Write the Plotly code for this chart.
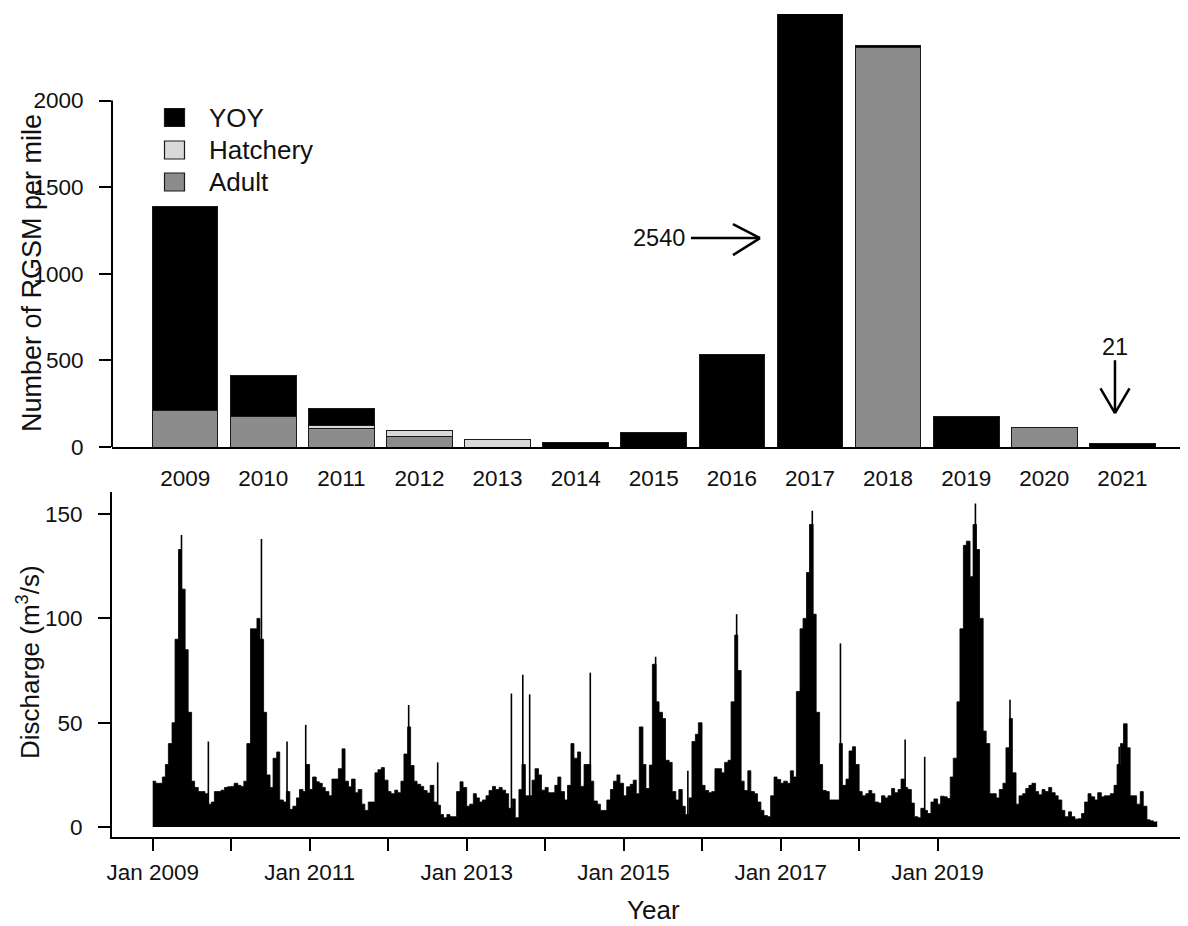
import plotly.graph_objects as go
import pandas as pd

# ---------------- data: top panel (RGSM density per mile) ----------------
years = [2009, 2010, 2011, 2012, 2013, 2014, 2015, 2016, 2017, 2018, 2019, 2020, 2021]
yoy = [1175, 233, 96, 0, 0, 25, 81, 534, 2540, 10, 176, 0, 21]
hatchery = [0, 0, 18, 37, 43, 0, 0, 0, 0, 0, 0, 0, 0]
adult = [212, 177, 106, 58, 0, 0, 0, 0, 0, 2308, 0, 114, 0]

# ---------------- data: bottom panel (discharge, semi-monthly envelope) ----------------
discharge_start = "2009-01-01"
discharge_end = "2021-10-15"
discharge = [
    # 2009
    22, 21, 21, 24, 30, 40, 50, 90, 133, 114, 85, 55, 22, 19, 17, 17, 16, 11, 12, 17, 17, 17.7, 19, 19.3,
    # 2010
    19.5, 21, 20, 19.5, 22, 40, 95, 95, 100, 90, 55, 25, 19, 33, 36, 13, 12, 17, 8.5, 10, 14, 18, 17, 30,
    # 2011
    18, 24, 21.7, 21, 19, 17, 15, 23, 23, 28, 37.5, 22, 19.3, 23, 16.5, 18, 11, 8, 12, 12, 26, 27.5, 28.5, 22.5,
    # 2012
    17, 16, 17.7, 16.5, 22, 35, 48, 29.5, 22, 20.5, 19.5, 17.5, 16.3, 20, 12, 10.5, 6, 4.5, 6, 5, 5, 17, 21.7, 19,
    # 2013
    10, 11, 16, 14, 12, 13, 15, 17.5, 19.5, 18, 19, 17.7, 16, 9, 13.5, 4.5, 18, 30, 15, 15, 22.5, 28, 25, 17.7,
    # 2014
    19, 16.5, 16.5, 20, 24, 17, 13, 20, 40, 33, 36, 19.5, 30, 30, 22, 12.5, 11, 8, 8, 13, 18, 22, 25, 21,
    # 2015
    15, 19.3, 20.5, 22.5, 16, 48, 30, 18.5, 29.7, 78, 60, 55, 52, 32, 31, 17, 13, 18, 10, 6, 14, 41, 44.5, 50,
    # 2016
    20, 17.5, 16.5, 17, 28, 28, 26, 31, 32, 60, 92, 75, 22, 17.5, 27, 17, 16, 12, 8, 5.5, 5, 15, 24, 22.8,
    # 2017
    21, 22, 21, 27, 24, 65, 95, 100, 122, 145, 102, 55, 30, 17.5, 17, 13, 13, 13, 40, 20, 23, 36.5, 38.5, 30,
    # 2018
    17, 15, 16, 17.5, 16, 12, 11.5, 15, 14, 15, 18.5, 16.5, 18, 23, 19, 18, 11.5, 5, 4.5, 9, 8, 6.5, 12, 13.5,
    # 2019
    11, 14.8, 14.5, 13.7, 24, 33, 60, 95, 135, 137, 120, 145, 133, 100, 46, 40, 16, 16, 14, 18, 21, 38, 52, 26,
    # 2020
    11, 15, 16, 18.5, 20, 21, 17, 15.5, 18, 17, 19, 16.5, 15, 13, 8, 5, 7.3, 5, 3.8, 4, 6.5, 12, 16, 14.5,
    # 2021
    13, 16.5, 14.5, 15, 15, 16, 20, 30, 40, 49.5, 38, 15, 15, 11, 17, 10, 3.5, 3, 2.4, 2.6,
]
spike_dates = ["2009-05-15", "2009-09-17", "2010-05-22", "2010-09-18", "2010-12-14",
               "2012-04-06", "2012-08-19", "2013-07-28", "2013-09-19", "2013-10-21",
               "2014-07-30", "2015-05-30", "2015-10-27", "2016-06-10", "2017-05-28",
               "2017-10-06", "2018-08-03", "2018-11-02", "2019-06-26", "2019-12-04",
               "2021-04-25"]
spike_values = [140, 41, 138, 41, 49,
                58.5, 31, 64, 73, 63.6,
                74, 81.6, 27, 102, 151.6,
                88, 42, 33.7, 155, 61,
                38.5]

labeled_tick_years = [2009, 2011, 2013, 2015, 2017, 2019]
minor_tick_years = [2010, 2012, 2014, 2016, 2018]

# ---------------- figure geometry helpers ----------------
# the page body adds an 8 px margin, so the figure is 8 px smaller and all
# reference pixel positions are shifted by that offset
OFF = 8
W, H = 1188 - OFF, 926 - OFF
FONT = "Liberation Sans, Arial, Helvetica, sans-serif"
TXT = "#111111"


def fx(p):
    return (p - OFF) / W


def fy(p):
    return 1 - (p - OFF) / H


fig = go.Figure()

# ---------------- top panel: stacked bars ----------------
xpos = list(range(len(years)))
series = [("Adult", adult, "#8c8c8c"), ("Hatchery", hatchery, "#d9d9d9"), ("YOY", yoy, "#000000")]
for name, vals, color in series:
    fig.add_trace(go.Bar(
        x=xpos, y=[v if v else None for v in vals], name=name, width=0.84,
        marker=dict(color=color, line=dict(color="#1a1a1a", width=1)),
        showlegend=False, xaxis="x", yaxis="y",
    ))

# ---------------- bottom panel: discharge ----------------
dates = pd.date_range(discharge_start, discharge_end, freq="SMS")
x_step = list(dates) + [dates[-1] + pd.Timedelta(days=4)]
y_step = list(discharge) + [discharge[-1]]
fig.add_trace(go.Scatter(
    x=x_step, y=y_step, mode="lines", line=dict(shape="hv", color="black", width=0.8),
    fill="tozeroy", fillcolor="black", showlegend=False, xaxis="x2", yaxis="y2",
))
sx, sy = [], []
for d, v in zip(spike_dates, spike_values):
    sx += [d, d, None]
    sy += [0, v, None]
fig.add_trace(go.Scatter(
    x=sx, y=sy, mode="lines", line=dict(color="black", width=1.6),
    showlegend=False, xaxis="x2", yaxis="y2",
))

# ---------------- axes ----------------
px_per_year = 78.5
jan2009_px = 152.7
left_days = (jan2009_px - 112) / px_per_year * 365.25
right_days = (1188 - jan2009_px) / px_per_year * 365.25
x2_start = pd.Timestamp("2009-01-01") - pd.Timedelta(days=left_days)
x2_end = pd.Timestamp("2009-01-01") + pd.Timedelta(days=right_days)

tick_font = dict(family=FONT, size=22.5, color=TXT)
dom_x = [fx(112), 1]

fig.update_layout(
    width=W, height=H, template="none",
    margin=dict(l=0, r=0, t=0, b=0, autoexpand=False),
    paper_bgcolor="white", plot_bgcolor="white",
    barmode="stack", showlegend=False,
    font=dict(family=FONT, color=TXT),
    xaxis=dict(domain=dom_x, anchor="y", range=[-0.937, 12.84], tickvals=xpos,
               ticktext=[str(y) for y in years], ticks="", showline=True, linecolor="black",
               linewidth=2, showgrid=False, zeroline=False, tickfont=tick_font,
               ticklabelstandoff=10, automargin=False),
    yaxis=dict(domain=[fy(447), fy(14)], anchor="x", range=[0, 2500],
               tickvals=[0, 500, 1000, 1500, 2000], ticks="outside", ticklen=12, tickwidth=2,
               tickcolor="black", showline=False, showgrid=False, zeroline=False,
               tickfont=tick_font, ticklabelstandoff=11, automargin=False),
    xaxis2=dict(domain=dom_x, anchor="y2", type="date", range=[x2_start, x2_end],
                tickvals=[f"{y}-01-01" for y in labeled_tick_years],
                ticktext=[f"Jan {y}" for y in labeled_tick_years],
                minor=dict(tickvals=[f"{y}-01-01" for y in minor_tick_years], ticks="outside",
                           ticklen=12, tickwidth=2, tickcolor="black", showgrid=False),
                ticks="outside", ticklen=12, tickwidth=2, tickcolor="black",
                showline=True, linecolor="black", linewidth=2, showgrid=False, zeroline=False,
                tickfont=tick_font, ticklabelstandoff=2, automargin=False),
    yaxis2=dict(domain=[fy(836.7), fy(491.7)], anchor="x2", range=[-4.6, 160.7],
                tickvals=[0, 50, 100, 150], ticks="outside", ticklen=12, tickwidth=2,
                tickcolor="black", showline=True, linecolor="black", linewidth=2,
                showgrid=False, zeroline=False, tickfont=tick_font, ticklabelstandoff=11,
                automargin=False),
)

# top panel y axis line only spans the tick range (0..2000)
fig.add_shape(type="line", xref="x domain", yref="y", x0=0, x1=0, y0=0, y1=2000,
              line=dict(color="black", width=2))

# legend (drawn as boxes + labels, YOY / Hatchery / Adult from top)
legend_rows_px = [117.5, 150, 182]
for (name, vals, color), ypx in zip(series[::-1], legend_rows_px):
    fig.add_shape(type="rect", xref="paper", yref="paper",
                  x0=fx(164.5), x1=fx(184.5), y0=fy(ypx + 9), y1=fy(ypx - 9),
                  fillcolor=color, line=dict(color="#1a1a1a", width=1.2))
    fig.add_annotation(text=name, xref="paper", yref="paper", x=fx(207), y=fy(ypx),
                       xanchor="left", yanchor="middle", showarrow=False,
                       font=dict(family=FONT, size=26, color=TXT))

# arrows
arrow_style = dict(color="black", width=2.5)
# 2540 -> 2017 bar
fig.add_shape(type="line", xref="x", yref="y", x0=6.476, x1=7.36, y0=1206, y1=1206, line=arrow_style)
fig.add_shape(type="line", xref="x", yref="y", x0=7.014, x1=7.36, y0=1287, y1=1206, line=arrow_style)
fig.add_shape(type="line", xref="x", yref="y", x0=7.014, x1=7.36, y0=1108, y1=1206, line=arrow_style)
# 21 -> 2021 bar
fig.add_shape(type="line", xref="x", yref="y", x0=11.905, x1=11.905, y0=501, y1=195, line=arrow_style)
fig.add_shape(type="line", xref="x", yref="y", x0=11.719, x1=11.905, y0=339, y1=195, line=arrow_style)
fig.add_shape(type="line", xref="x", yref="y", x0=12.091, x1=11.905, y0=339, y1=195, line=arrow_style)

annots = [
    dict(text=str(yoy[years.index(2017)]), xref="x", yref="y", x=6.066, y=1206,
         font=dict(size=23.5)),
    dict(text=str(yoy[years.index(2021)]), xref="x", yref="y", x=11.905, y=576,
         font=dict(size=23.5)),
    dict(text="Number of RGSM per mile", xref="paper", yref="paper", x=fx(32), y=fy(273),
         textangle=-90, font=dict(size=27)),
    dict(text="Discharge (m<sup>3</sup>/s)", xref="paper", yref="paper", x=fx(28), y=fy(662),
         textangle=-90, font=dict(size=26)),
    dict(text="Year", xref="paper", yref="paper", x=fx(653), y=fy(910), font=dict(size=26)),
]
for a in annots:
    a.setdefault("showarrow", False)
    a.setdefault("xanchor", "center")
    a.setdefault("yanchor", "middle")
    a["font"] = dict(family=FONT, color=TXT, **a["font"])
    fig.add_annotation(**a)

fig.write_html("out.html")
